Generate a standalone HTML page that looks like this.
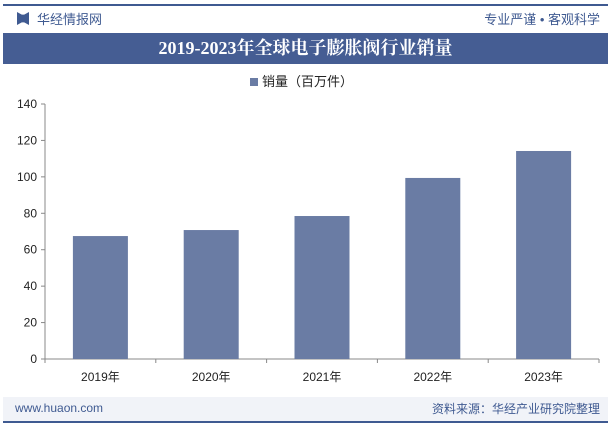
<!DOCTYPE html>
<html><head><meta charset="utf-8"><style>
body{margin:0;width:612px;height:426px;background:#fff;font-family:"Liberation Sans","Noto Sans CJK SC",sans-serif;overflow:hidden;position:relative}
.abs{position:absolute}
</style></head><body>
<div class="abs" style="left:3px;top:4px;width:605px;height:2px;background:#3f5a91"></div>
<div class="abs" style="left:17px;top:12px;width:12px;height:13px;background:#3f5a91;clip-path:polygon(0 0,40% 20%,60% 20%,100% 0,100% 100%,60% 80%,40% 80%,0 100%)"></div>
<div class="abs" style="left:37px;top:9px;font-size:13px;color:#3f5a91">华经情报网</div>
<div class="abs" style="right:12px;top:9px;font-size:13px;color:#3f5a91">专业严谨 • 客观科学</div>
<div class="abs" style="left:3px;top:33px;width:605px;height:31px;background:#455d93;color:#fff;font-family:'Liberation Serif','Noto Serif CJK SC',serif;font-weight:bold;font-size:18px;line-height:31px;text-align:center">2019-2023年全球电子膨胀阀行业销量</div>
<div class="abs" style="left:250px;top:71px;font-size:13px;color:#222"><span style="display:inline-block;width:8px;height:8px;background:#6a7ca4;margin-right:4px"></span>销量（百万件）</div>
<svg class="abs" style="left:0;top:0" width="612" height="426" id="chart"></svg>
<div class="abs" style="left:3px;top:397px;width:605px;height:24px;background:#f1f3f8"></div>
<div class="abs" style="left:3px;top:421px;width:605px;height:2px;background:#3f5a91"></div>
<div class="abs" style="left:15px;top:401px;font-size:12px;color:#3f5a91">www.huaon.com</div>
<div class="abs" style="right:12px;top:400px;font-size:12px;color:#3f5a91">资料来源：华经产业研究院整理</div>
<script>
const categories=["2019年","2020年","2021年","2022年","2023年"];
const values=[67.5,70.8,78.5,99.4,114.2];
const ticks=[0,20,40,60,80,100,120,140];
const svg=document.getElementById('chart');const NS='http://www.w3.org/2000/svg';
const x0=45,x1=599,y0=359,y1=104,ymax=140;
const y=v=>y0-(v/ymax)*(y0-y1);
const bw=(x1-x0)/categories.length;
function mk(t,a){const e=document.createElementNS(NS,t);for(const k in a)e.setAttribute(k,a[k]);svg.appendChild(e);return e;}
let ax=mk('line',{x1:x0,y1:y1,x2:x0,y2:y0,stroke:'#888'});

let bx=mk('line',{x1:x0,y1:y0,x2:x1,y2:y0,stroke:'#888'});

ticks.forEach(t=>{
 const tl=mk('line',{x1:x0-4,x2:x0,y1:y(t),y2:y(t),stroke:'#888'});
 
 const tx=mk('text',{x:x0-8,y:y(t)+4,'text-anchor':'end','font-size':12,fill:'#222'});tx.textContent=t;
 
});
for(let i=0;i<=categories.length;i++){
 const tl=mk('line',{x1:x0+i*bw,x2:x0+i*bw,y1:y0,y2:y0+4,stroke:'#888'});
 
}
categories.forEach((c,i)=>{
 const cx=x0+bw*(i+0.5);const w=55;
 const r=mk('rect',{x:cx-w/2,y:y(values[i]),width:w,height:y0-y(values[i]),fill:'#6a7ca4'});
 
 const t=mk('text',{x:cx,y:y0+22,'text-anchor':'middle','font-size':12,fill:'#222'});t.textContent=c;
 
});
</script>
</body></html>
